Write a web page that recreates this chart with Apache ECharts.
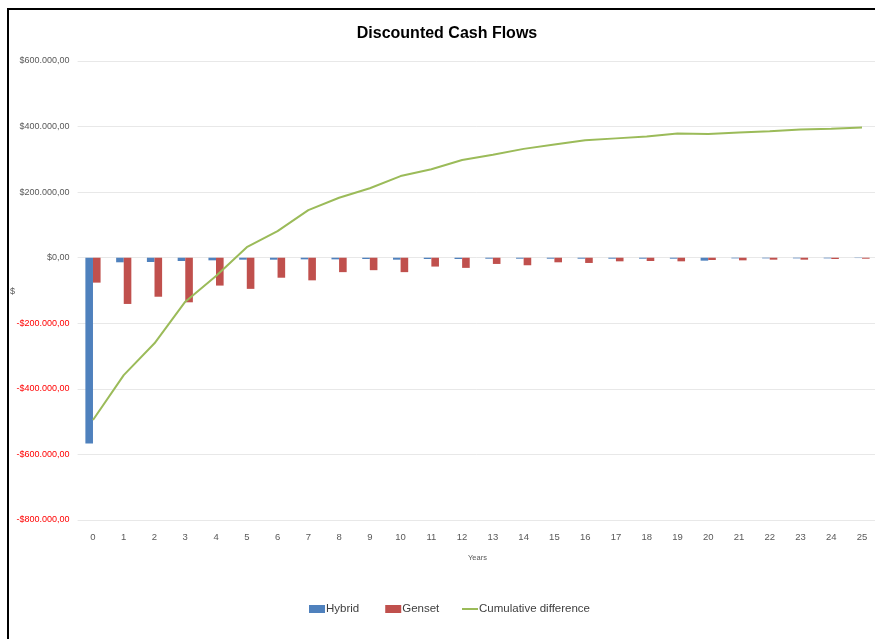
<!DOCTYPE html>
<html>
<head>
<meta charset="utf-8">
<script src="https://cdn.jsdelivr.net/npm/echarts@6/dist/echarts.min.js"></script>
<style>
html,body{margin:0;padding:0;background:#fff;}
#c{width:875px;height:639px;}
</style>
</head>
<body>
<div id="c"></div>
<script>
var years = ['0','1','2','3','4','5','6','7','8','9','10','11','12','13','14','15','16','17','18','19','20','21','22','23','24','25'];
var hybrid = [-567000, -14000, -13000, -10000, -8000, -6000, -6000, -5000, -5000, -4000, -6000, -4000, -4000, -3000, -3000, -3000, -3000, -3000, -3000, -3000, -9000, -2000, -2000, -2000, -2000, -1000];
var genset = [-76000, -141000, -119000, -136000, -85000, -95000, -61000, -69000, -44000, -38000, -44000, -27000, -31000, -19000, -23000, -14000, -16000, -11000, -10000, -11000, -7000, -8000, -6000, -6000, -4000, -3000];
var cumulative = [-495000, -358000, -261000, -134000, -56000, 32000, 81000, 145000, 183000, 212000, 249000, 270000, 298000, 314000, 332000, 345000, 358000, 364000, 370000, 379000, 377000, 382000, 386000, 391000, 393000, 397000];
var yTicks = {min: -800000, max: 600000, interval: 200000};
var yAxisTitle = '$';

var FONT = '"Liberation Sans", Arial, sans-serif';

function fmtMoney(v) {
  var neg = v < 0;
  var a = Math.abs(v);
  var s = String(Math.round(a)).replace(/\B(?=(\d{3})+(?!\d))/g, '.');
  return (neg ? '-$' : '$') + s + ',00';
}

var chart = echarts.init(document.getElementById('c'));
chart.setOption({
  backgroundColor: '#ffffff',
  animation: false,
  title: {
    text: 'Discounted Cash Flows',
    left: 447,
    top: 26,
    padding: 0,
    textAlign: 'center',
    textStyle: {fontFamily: FONT, fontSize: 16, fontWeight: 'bold', color: '#000000'}
  },
  graphic: [{
    type: 'rect',
    shape: {x: 8, y: 9, width: 900, height: 700},
    style: {fill: 'none', stroke: '#000000', lineWidth: 2},
    silent: true
  }, {
    type: 'text',
    x: 10,
    y: 287,
    style: {text: yAxisTitle, fontFamily: FONT, fontSize: 9, fill: '#595959'},
    silent: true
  }],
  legend: [{
    left: 309,
    top: 603,
    padding: 0,
    itemGap: 26,
    itemWidth: 16,
    itemHeight: 8,
    textStyle: {fontFamily: FONT, fontSize: 11.5, color: '#404040', padding: [0, 0, 0, -4]},
    data: [
      {name: 'Hybrid', icon: 'rect'},
      {name: 'Genset', icon: 'rect'}
    ]
  }, {
    left: 462,
    top: 603,
    padding: 0,
    itemWidth: 16,
    itemHeight: 2,
    textStyle: {fontFamily: FONT, fontSize: 11.5, color: '#404040', padding: [0, 0, 0, -4]},
    data: [
      {name: 'Cumulative difference', icon: 'rect'}
    ]
  }],
  grid: {left: 77.6, right: -2.4, top: 61, bottom: 119, containLabel: false, outerBoundsMode: 'none'},
  xAxis: {
    type: 'category',
    data: years,
    name: 'Years',
    nameLocation: 'middle',
    nameGap: 34,
    nameTextStyle: {fontFamily: FONT, fontSize: 7.5, color: '#595959'},
    axisLine: {show: false},
    axisTick: {show: false},
    axisLabel: {fontFamily: FONT, fontSize: 9.5, color: '#595959', margin: 12, interval: 0}
  },
  yAxis: {
    type: 'value',
    min: yTicks.min,
    max: yTicks.max,
    interval: yTicks.interval,
    axisLine: {show: false},
    axisTick: {show: false},
    splitLine: {lineStyle: {color: '#e8e8e8', width: 1}},
    axisLabel: {
      margin: 8,
      formatter: function (v) {
        return v < 0 ? '{neg|' + fmtMoney(v) + '}' : '{pos|' + fmtMoney(v) + '}';
      },
      rich: {
        pos: {fontFamily: FONT, fontSize: 9, color: '#595959'},
        neg: {fontFamily: FONT, fontSize: 9, color: '#ff0000'}
      }
    }
  },
  series: [
    {
      name: 'Hybrid',
      type: 'bar',
      data: hybrid,
      barWidth: 7.6,
      barGap: '0%',
      itemStyle: {color: '#4f81bd'}
    },
    {
      name: 'Genset',
      type: 'bar',
      data: genset,
      barWidth: 7.6,
      barGap: '0%',
      itemStyle: {color: '#c0504d'}
    },
    {
      name: 'Cumulative difference',
      type: 'line',
      data: cumulative,
      symbol: 'none',
      lineStyle: {color: '#9bbb59', width: 2},
      itemStyle: {color: '#9bbb59'},
      z: 5
    }
  ]
});
</script>
</body>
</html>
